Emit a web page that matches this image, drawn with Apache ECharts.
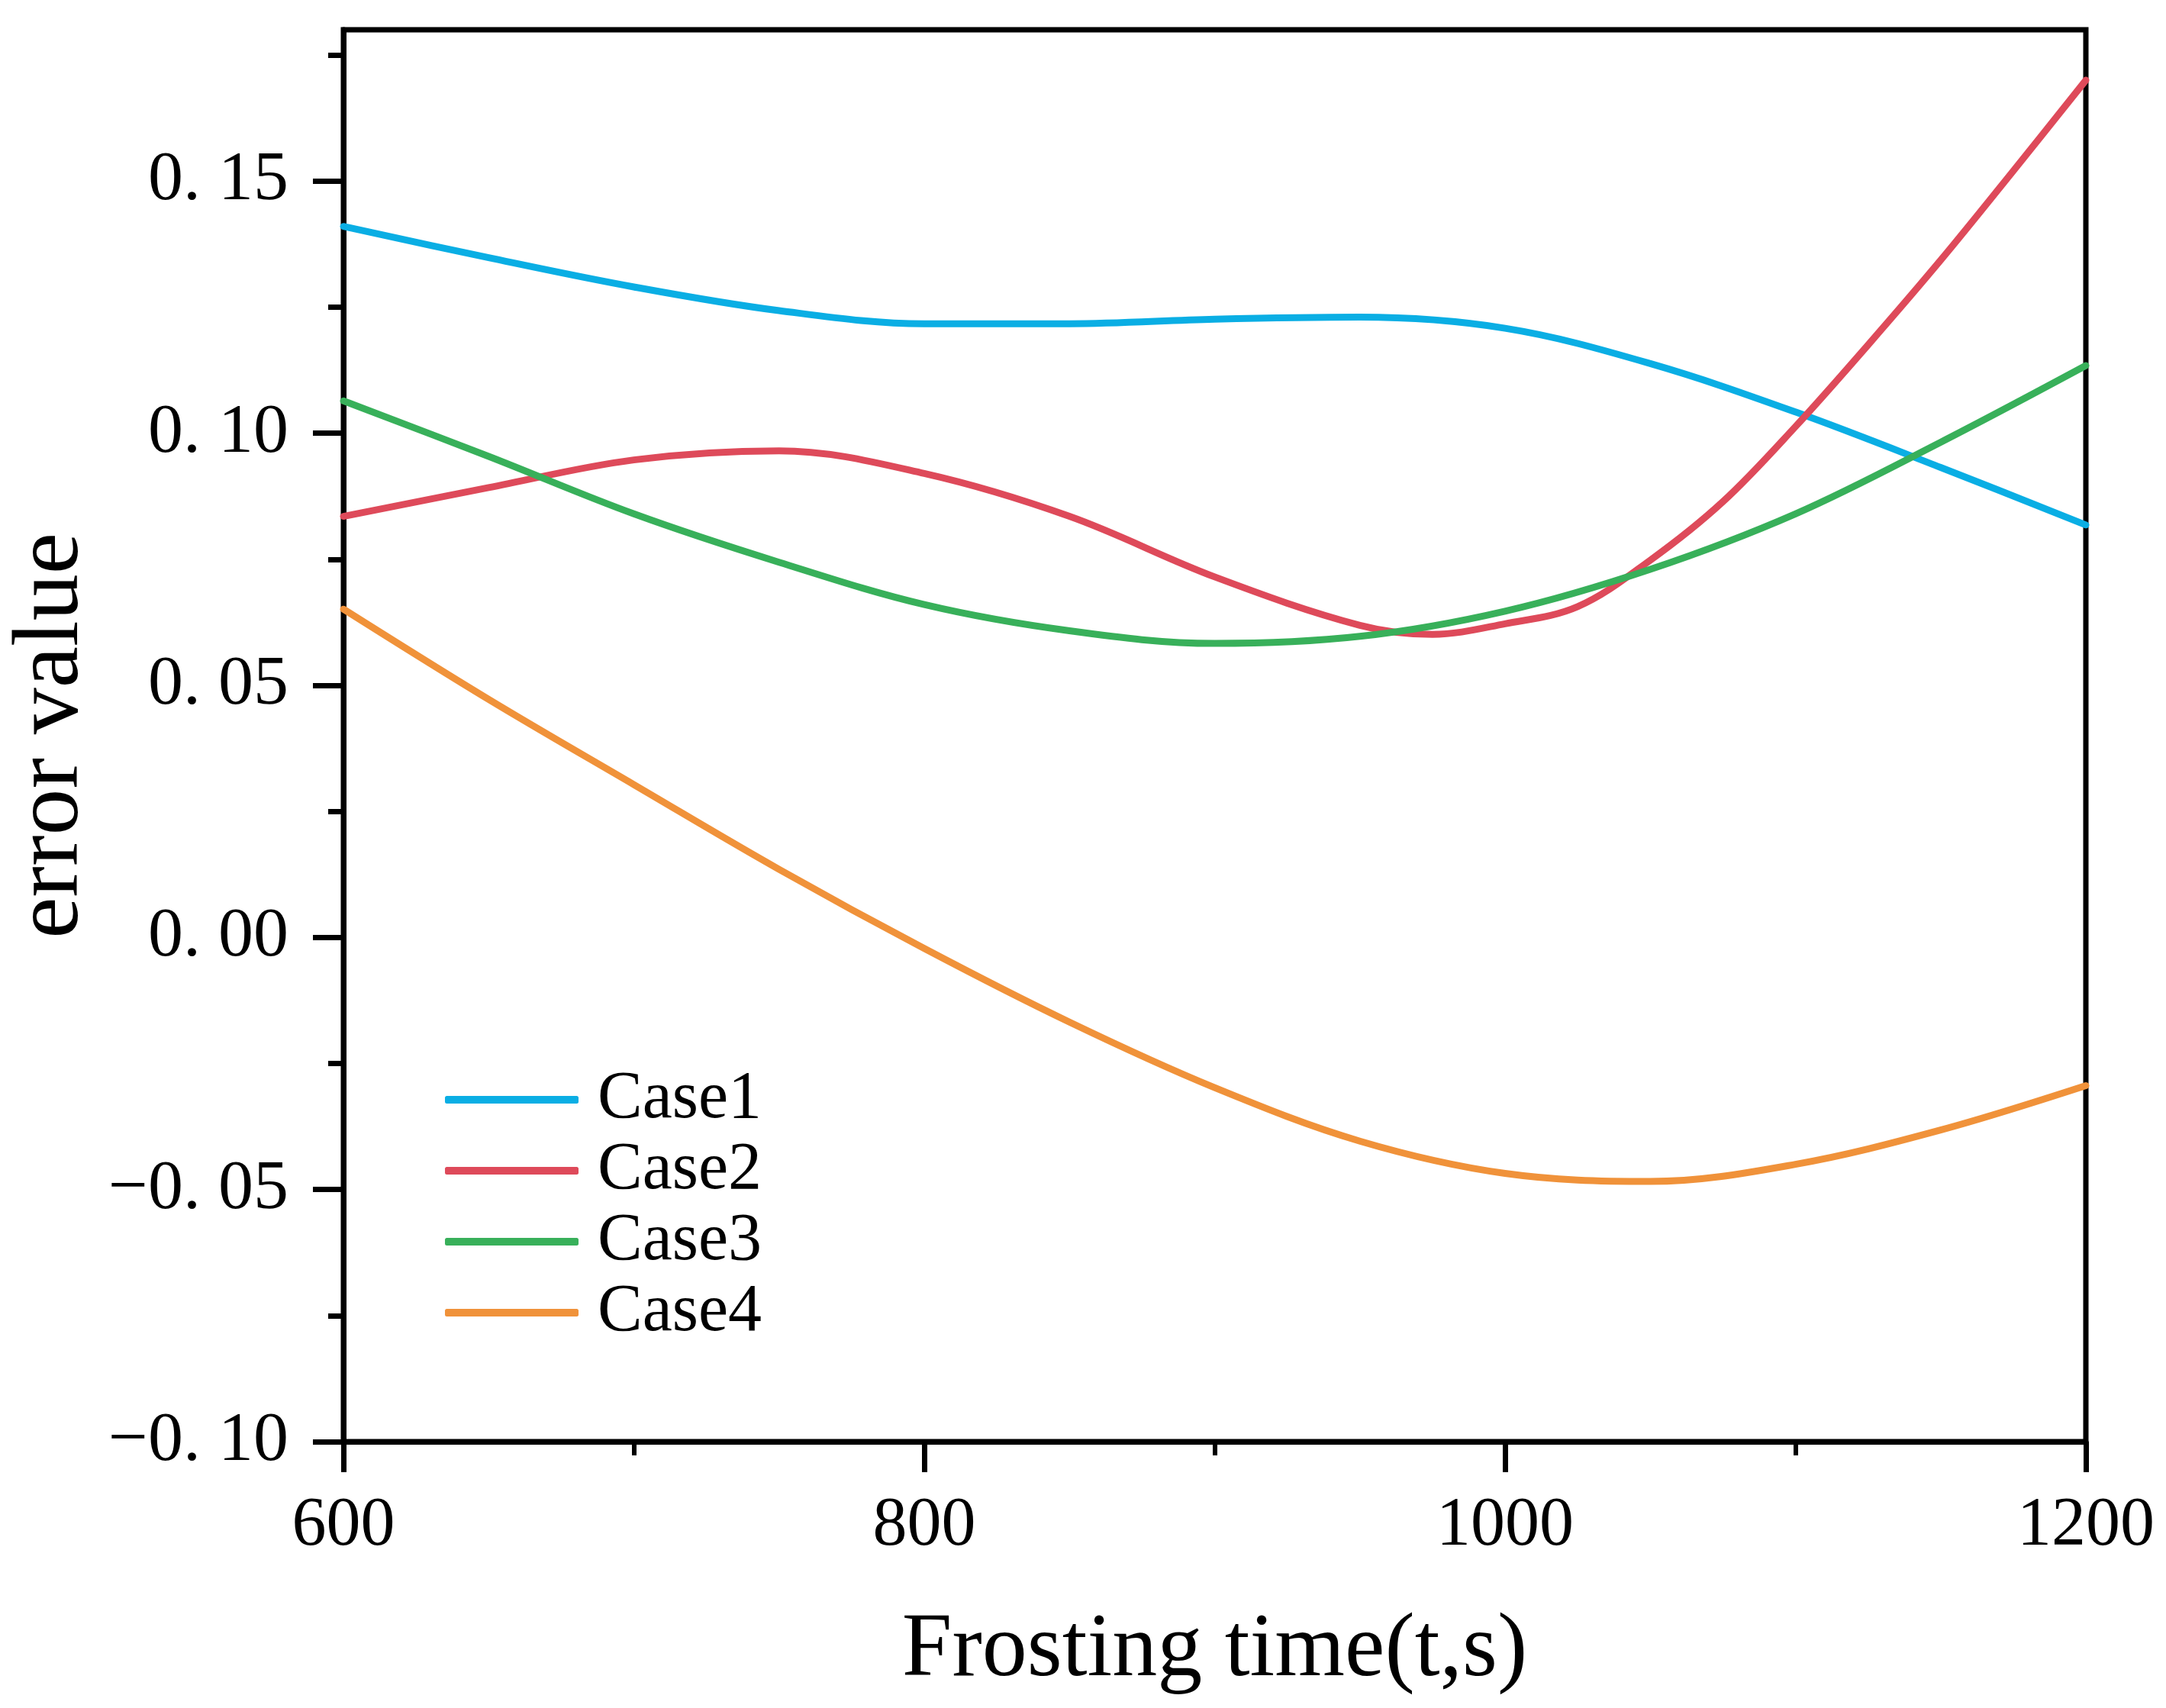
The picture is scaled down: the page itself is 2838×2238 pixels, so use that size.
<!DOCTYPE html>
<html>
<head>
<meta charset="utf-8">
<script src="https://cdn.jsdelivr.net/npm/echarts@6/dist/echarts.min.js"></script>
<style>html,body{margin:0;padding:0;background:#fff;}#c{width:2838px;height:2238px;}</style>
</head>
<body>
<div id="c"></div>
<script>
const xValues = [600, 650, 700, 750, 800, 850, 900, 950, 1000, 1050, 1100, 1150, 1200];
const case1 = [0.1410, 0.1348, 0.1290, 0.1243, 0.1217, 0.1217, 0.1226, 0.1230, 0.1208, 0.1138, 0.1042, 0.0932, 0.0818];
const xValuesCase2 = [600, 650, 700, 750, 800, 850, 900, 950, 975, 1000, 1025, 1050, 1075, 1100, 1125, 1150, 1175, 1200];
const case2 = [0.0835, 0.0892, 0.0947, 0.0965, 0.0920, 0.0835, 0.0715, 0.0619, 0.0601, 0.0622, 0.0656, 0.0748, 0.0864, 0.1013, 0.1175, 0.1343, 0.1520, 0.1700];
const case3 = [0.1064, 0.0954, 0.0840, 0.0744, 0.0660, 0.0608, 0.0583, 0.0597, 0.0647, 0.0730, 0.0840, 0.0982, 0.1134];
const case4 = [0.0651, 0.0472, 0.0303, 0.0135, -0.0022, -0.0168, -0.0298, -0.0404, -0.0468, -0.0484, -0.0450, -0.0382, -0.0294];
const seriesNames = ['Case1', 'Case2', 'Case3', 'Case4'];
const seriesColors = ['#0AAEE4', '#DE4A5A', '#38B05A', '#F0923A'];
const yMajorTicks = [-0.10, -0.05, 0.00, 0.05, 0.10, 0.15];
const yMinorTicks = [-0.075, -0.025, 0.025, 0.075, 0.125, 0.175];
const xTicks = [600, 800, 1000, 1200];

const seriesX = [xValues, xValuesCase2, xValues, xValues];
const seriesY = [case1, case2, case3, case4];
const FONT = '"Liberation Serif", "DejaVu Serif", serif';

function fmtY(v) {
  const s = Math.abs(v).toFixed(2).replace('.', '. ');
  return (v < -1e-9 ? '\u2212' : '') + s;
}

const chart = echarts.init(document.getElementById('c'), null, {renderer: 'canvas'});
chart.setOption({
  backgroundColor: '#ffffff',
  animation: false,
  grid: {left: 434, right: 105, top: 39, bottom: 349, show: true, borderColor: '#000', borderWidth: 7, backgroundColor: 'transparent'},
  legend: {
    orient: 'vertical', left: 578, top: 1392,
    icon: 'roundRect', itemWidth: 175, itemHeight: 10, itemGap: 5,
    textStyle: {fontFamily: FONT, fontSize: 88, lineHeight: 86, color: '#000', padding: [0, 0, 0, 20]},
    data: seriesNames
  },
  xAxis: {
    type: 'value', min: 600, max: 1200, interval: 200,
    name: 'Frosting time(t,s)', nameLocation: 'middle', nameGap: 216,
    nameTextStyle: {fontFamily: FONT, fontSize: 118, color: '#000'},
    axisLine: {show: true, onZero: false, lineStyle: {color: '#000', width: 7}},
    axisTick: {show: true, inside: false, length: 40, lineStyle: {color: '#000', width: 7}, customValues: xTicks},
    minorTick: {show: true, splitNumber: 2, length: 18, lineStyle: {color: '#000', width: 6}},
    axisLabel: {fontFamily: FONT, fontSize: 90, color: '#000', margin: 66, customValues: xTicks, formatter: v => String(v)},
    splitLine: {show: false}, minorSplitLine: {show: false}
  },
  yAxis: [{
    type: 'value', min: -0.10, max: 0.18, position: 'left',
    name: 'error value', nameLocation: 'middle', nameGap: 320, nameRotate: 90,
    nameTextStyle: {fontFamily: FONT, fontSize: 122, color: '#000'},
    axisLine: {show: true, onZero: false, lineStyle: {color: '#000', width: 7}},
    axisTick: {show: true, inside: false, length: 40, lineStyle: {color: '#000', width: 7}, customValues: yMajorTicks},
    axisLabel: {fontFamily: FONT, fontSize: 92, color: '#000', margin: 72, customValues: yMajorTicks, formatter: fmtY},
    splitLine: {show: false}
  }, {
    type: 'value', min: -0.10, max: 0.18, position: 'left', offset: 0,
    axisLine: {show: false, onZero: false},
    axisTick: {show: true, inside: false, length: 20, lineStyle: {color: '#000', width: 7}, customValues: yMinorTicks},
    axisLabel: {show: false},
    splitLine: {show: false}
  }],
  series: seriesNames.map((n, i) => ({
    name: n, type: 'line', smooth: 0.35, symbol: 'none', yAxisIndex: 0,
    lineStyle: {color: seriesColors[i], width: 9, cap: 'round', join: 'round'},
    itemStyle: {color: seriesColors[i]},
    data: seriesX[i].map((x, k) => [x, seriesY[i][k]])
  }))
});
</script>
</body>
</html>
